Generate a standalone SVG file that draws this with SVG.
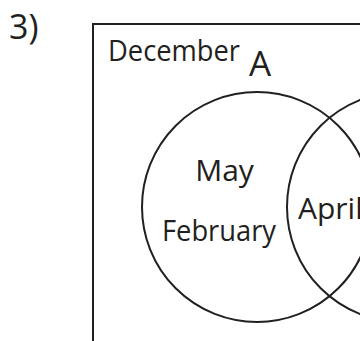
<svg xmlns="http://www.w3.org/2000/svg" width="360" height="341" viewBox="0 0 360 341">
<style>
.ln{fill:none;stroke:#231f20;stroke-width:2}
.t{font-family:"Open Sans","Noto Sans","Liberation Sans",sans-serif;fill:#231f20}
</style>
<rect width="360" height="341" fill="#ffffff"/>
<text class="t" x="9" y="39" font-size="34">3)</text>
<g id="universe">
<rect class="ln" x="93" y="24" width="320" height="340"/>
<text class="t" x="108" y="61" font-size="30" textLength="132" lengthAdjust="spacingAndGlyphs">December</text>
</g>
<g id="setA">
<circle class="ln" cx="257" cy="207" r="115"/>
<text class="t" x="249" y="76" font-size="35">A</text>
<text class="t" x="224.5" y="181" font-size="30" text-anchor="middle">May</text>
<text class="t" x="162" y="241" font-size="30" textLength="114" lengthAdjust="spacingAndGlyphs">February</text>
</g>
<g id="setB">
<circle class="ln" cx="402" cy="207" r="115"/>
<text class="t" x="298" y="219" font-size="30">April</text>
</g>
</svg>
